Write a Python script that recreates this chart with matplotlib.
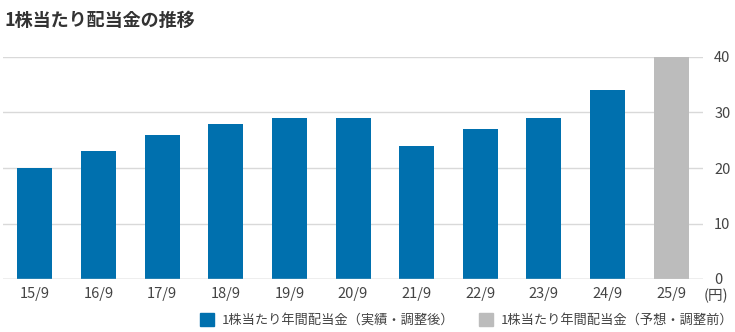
import matplotlib.pyplot as plt
from matplotlib.patches import Patch

plt.rcParams['font.family'] = ['Noto Sans CJK JP', 'DejaVu Sans']

years = ['15/9', '16/9', '17/9', '18/9', '19/9', '20/9', '21/9', '22/9', '23/9', '24/9', '25/9']
dividends = [20, 23, 26, 28, 29, 29, 24, 27, 29, 34, 40]
forecast = [False] * 10 + [True]
labels = ['1株当たり年間配当金（実績・調整後）', '1株当たり年間配当金（予想・調整前）']

blue = '#0070ae'
gray = '#bcbcbc'
colors = [gray if f else blue for f in forecast]

fig = plt.figure(figsize=(7.35, 3.32), dpi=100)
ax = fig.add_axes([3 / 735, 53 / 332, 700 / 735, 222 / 332])

x = range(len(years))
ax.bar(x, dividends, width=0.55, color=colors, zorder=3)

ax.set_xlim(-0.5, len(years) - 0.5)
ax.set_ylim(0, 40)
ax.set_yticks([0, 10, 20, 30, 40])
ax.yaxis.tick_right()
ax.grid(axis='y', color='#d9d9d9', linewidth=1, zorder=0)
ax.set_xticks(list(x))
ax.set_xticklabels(years)
ax.tick_params(axis='both', length=0, labelsize=10.5, colors='#444444', pad=6)
ax.tick_params(axis='y', pad=8)
for s in ax.spines.values():
    s.set_visible(False)
ax.axhline(0, color='#cccccc', linewidth=1, zorder=4)

fig.text(704 / 735, 1 - 296 / 332, '(円)', fontsize=10.5, color='#444444', va='center', ha='left')
fig.text(5 / 735, 1 - 20 / 332, '1株当たり配当金の推移', fontsize=13, fontweight='bold',
         color='#333333', va='center', ha='left')

handles = [Patch(color=blue), Patch(color=gray)]
fig.legend(handles, labels, loc='center right', bbox_to_anchor=(1.0, 1 - 320 / 332), ncol=2,
           frameon=False, fontsize=9.5, handlelength=1.1, handleheight=1.1,
           handletextpad=0.6, columnspacing=1.8, labelcolor='#444444',
           borderpad=0, borderaxespad=0.1)

fig.savefig('out.png', dpi=100)
